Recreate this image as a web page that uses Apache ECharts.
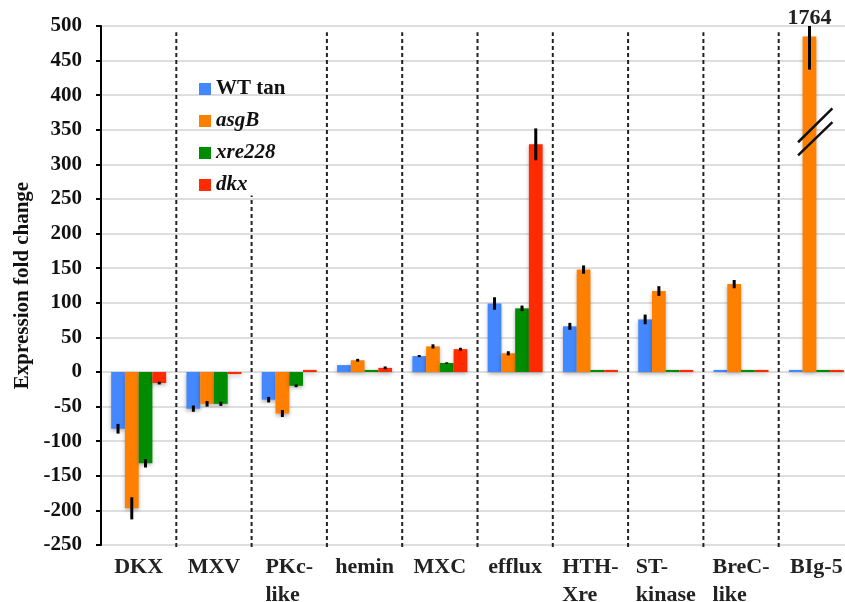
<!DOCTYPE html>
<html>
<head>
<meta charset="utf-8">
<script src="https://cdn.jsdelivr.net/npm/echarts@6/dist/echarts.min.js"></script>
<style>
    html, body { margin: 0; padding: 0; background: #fff; }
    #chart { width: 845px; height: 602px; }
</style>
</head>
<body>
<div id="chart"></div>
<script>
    // genes on the x axis
    var genes = ['DKX', 'MXV', 'PKc-\nlike', 'hemin', 'MXC', 'efflux', 'HTH-\nXre', 'ST-\nkinase', 'BreC-\nlike', 'BIg-5'];
    var strains = ['WT tan', 'asgB', 'xre228', 'dkx'];

    // fold change per strain, with +/- error
    var wtTan = [-82, -53, -40, 10, 23, 99, 66, 76, 3, 3];
    var wtTanErr = [7, 4.5, 4, 0, 1.5, 9, 5, 7, 0, 0];
    var asgB = [-197, -46, -60, 17, 37, 27, 148, 117, 127, 485];
    var asgBErr = [16, 4, 5, 2, 3, 3, 6, 7, 6, 48];
    var xre228 = [-132, -46, -20, 3, 13, 92, 3, 3, 3, 3];
    var xre228Err = [6, 3, 2, 0, 1, 4, 0, 0, 0, 0];
    var dkx = [-16, -3, 3, 6, 33, 329, 3, 3, 3, 3];
    var dkxErr = [2, 0, 0, 2, 2, 23, 0, 0, 0, 0];

    // BIg-5 asgB is off scale, the real value is written above the bar
    var bigValue = 1764;

    // y axis ticks
    var yMin = -250, yMax = 500, yStep = 50;

    // top of the dashed separators (one between each pair of genes)
    var dividerTop = [491, 255, 491, 491, 491, 491, 491, 491, 491];
    var dividerBottom = -253;

    // axis break marks on the BIg-5 bar: [x offset in bands, value] pairs
    var breakMarks = [
        [[-0.243, 332], [0.213, 381]],
        [[-0.243, 313], [0.213, 361]]
    ];

    var colors = ['#4488ff', '#ff8000', '#008c00', '#ff2a00'];
    var font = 'Liberation Serif';
    var catGap = 0.27;

    var values = [wtTan, asgB, xre228, dkx];
    var errors = [wtTanErr, asgBErr, xre228Err, dkxErr];

    var chart = echarts.init(document.getElementById('chart'));

    var series = [];
    strains.forEach(function (name, s) {
        series.push({
            name: name,
            type: 'bar',
            barGap: '0%',
            barCategoryGap: (catGap * 100) + '%',
            itemStyle: {
                color: colors[s],
                shadowColor: 'rgba(0,0,0,0.3)',
                shadowBlur: 4,
                shadowOffsetY: 2
            },
            data: values[s].map(function (v, i) {
                if (s === 1 && i === 9) {
                    return {
                        value: v,
                        label: {
                            show: true,
                            position: 'top',
                            distance: 7,
                            formatter: String(bigValue),
                            fontFamily: font,
                            fontWeight: 'bold',
                            fontSize: 22,
                            color: '#222'
                        }
                    };
                }
                return v;
            })
        });
    });

    // error bars
    var errData = [];
    values.forEach(function (arr, s) {
        arr.forEach(function (v, i) {
            if (errors[s][i] > 0) errData.push([i, s, v, errors[s][i]]);
        });
    });
    series.push({
        type: 'custom',
        data: errData,
        encode: { x: 0, y: 2 },
        clip: true,
        z: 5,
        renderItem: function (params, api) {
            var i = api.value(0), s = api.value(1), v = api.value(2), e = api.value(3);
            var band = api.size([1, 0])[0];
            var barW = band * (1 - catGap) / 4;
            var c = api.coord([i, v]);
            var x = c[0] + (s - 1.5) * barW;
            var yA = api.coord([i, v - e])[1];
            var yB = api.coord([i, v + e])[1];
            return {
                type: 'line',
                shape: { x1: x, y1: yA, x2: x, y2: yB },
                style: { stroke: '#000', lineWidth: 3 }
            };
        }
    });

    // dashed separators
    series.push({
        type: 'custom',
        data: dividerTop.map(function (t, k) { return [k + 1, t]; }),
        encode: { x: 0, y: 1 },
        clip: false,
        silent: true,
        renderItem: function (params, api) {
            var i = api.value(0);
            var band = api.size([1, 0])[0];
            var top = api.coord([i, api.value(1)]);
            var bot = api.coord([i, dividerBottom]);
            var x = top[0] - band / 2;
            return {
                type: 'line',
                shape: { x1: x, y1: bot[1], x2: x, y2: top[1] },
                style: { stroke: '#222', lineWidth: 2, lineDash: [4, 3] }
            };
        }
    });

    // break marks
    series.push({
        type: 'custom',
        data: breakMarks.map(function (m) { return [9, m[0][0], m[0][1], m[1][0], m[1][1]]; }),
        encode: { x: 0, y: 2 },
        z: 6,
        renderItem: function (params, api) {
            var i = api.value(0);
            var band = api.size([1, 0])[0];
            var p1 = api.coord([i, api.value(2)]);
            var p2 = api.coord([i, api.value(4)]);
            return {
                type: 'line',
                shape: {
                    x1: p1[0] + api.value(1) * band, y1: p1[1],
                    x2: p2[0] + api.value(3) * band, y2: p2[1]
                },
                style: { stroke: '#111', lineWidth: 2.5 }
            };
        }
    });

    var option = {
        animation: false,
        backgroundColor: '#fff',
        grid: { left: 101, right: -9, top: 26, bottom: 57, containLabel: false, outerBoundsMode: 'none' },
        legend: {
            data: strains,
            orient: 'vertical',
            left: 194,
            top: 73,
            itemWidth: 12,
            itemHeight: 12,
            itemGap: 10,
            icon: 'rect',
            textStyle: {
                fontFamily: font,
                fontWeight: 'bold',
                fontSize: 21,
                lineHeight: 22,
                color: '#111',
                rich: {
                    n: { fontFamily: font, fontWeight: 'bold', fontSize: 21, fontStyle: 'normal', color: '#111' },
                    i: { fontFamily: font, fontWeight: 'bold', fontSize: 21, fontStyle: 'italic', color: '#111' }
                }
            },
            formatter: function (name) {
                return name === 'WT tan' ? '{n|' + name + '}' : '{i|' + name + '}';
            }
        },
        xAxis: {
            type: 'category',
            data: genes,
            axisLine: { show: false },
            axisTick: { show: false },
            splitLine: { show: false },
            axisLabel: {
                interval: 0,
                margin: 8,
                formatter: function (v) {
                    return v.split('\n').map(function (s) { return '{a|' + s + '}'; }).join('\n');
                },
                rich: {
                    a: {
                        align: 'left',
                        fontFamily: font,
                        fontWeight: 'bold',
                        fontSize: 22,
                        lineHeight: 28,
                        color: '#222'
                    }
                }
            }
        },
        yAxis: {
            type: 'value',
            min: yMin,
            max: yMax,
            interval: yStep,
            name: 'Expression fold change',
            nameLocation: 'middle',
            nameGap: 68,
            nameTextStyle: { fontFamily: font, fontWeight: 'bold', fontSize: 21, color: '#111' },
            axisLine: { show: true, lineStyle: { color: '#000', width: 2 } },
            axisTick: { show: true, length: 5, lineStyle: { color: '#000', width: 2 } },
            axisLabel: { margin: 19, fontFamily: font, fontWeight: 'bold', fontSize: 21, color: '#111' },
            splitLine: { lineStyle: { color: '#dedede', width: 2 } }
        },
        series: series
    };

    chart.setOption(option);
</script>
</body>
</html>
